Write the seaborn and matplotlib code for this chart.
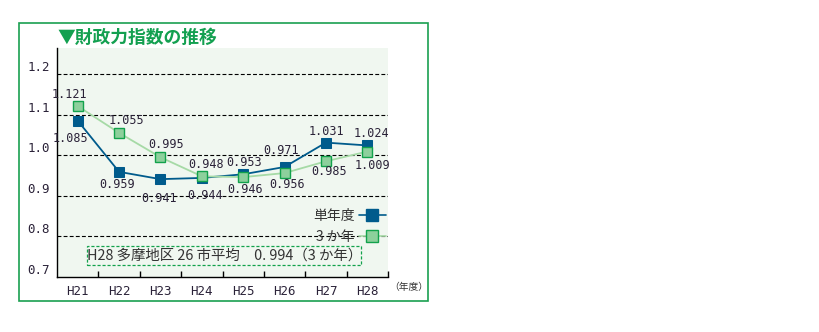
import matplotlib
matplotlib.use("Agg")
import matplotlib.pyplot as plt
import seaborn as sns
import numpy as np
import pandas as pd
from matplotlib.lines import Line2D
from matplotlib.patches import Rectangle

years = ["H21", "H22", "H23", "H24", "H25", "H26", "H27", "H28"]
single_year = [1.085, 0.959, 0.941, 0.944, 0.953, 0.971, 1.031, 1.024]
three_year = [1.121, 1.055, 0.995, 0.948, 0.946, 0.956, 0.985, 1.009]
y_ticks = [0.7, 0.8, 0.9, 1.0, 1.1, 1.2]
single_label = "単年度"
three_label = "3 か年"
title = "▼財政力指数の推移"
note = "H28 多摩地区 26 市平均　0. 994（3 か年）"
unit = "（年度）"

# label offsets in pixels (dx, dy) relative to each point
single_off = [(-7, -18), (-2, -13), (-1, -19), (3, -18), (1, 12), (-3, 16), (1, 11), (4, 12)]
three_off = [(-8, 12), (7, 12), (6, 13), (4, 12), (2, -12), (2, -11), (3, -10), (5, -14)]

sns.set_theme(style="white")
plt.rcParams['font.family'] = ['DejaVu Sans']

BLUE = "#005B8C"
GLINE = "#A6DAA6"
GFACE = "#8DD09C"
GEDGE = "#12A24C"
TXT = "#2A2238"
CJK = ['Noto Sans CJK JP', 'DejaVu Sans']
MONO = ['DejaVu Sans Mono']

fig = plt.figure(figsize=(8.19, 3.32), dpi=100)
fig.patch.set_facecolor("white")
ax = fig.add_axes([57/819, 55/332, 331/819, 229/332])
ax.set_facecolor("#F0F7F0")

x = np.arange(len(years))
df = pd.DataFrame({"x": np.concatenate([x, x]),
                   "v": single_year + three_year,
                   "s": [single_label]*8 + [three_label]*8})

sns.lineplot(data=df[df.s == single_label], x="x", y="v", ax=ax, color=BLUE,
             lw=1.3, marker="s", markersize=6.5, markerfacecolor=BLUE,
             markeredgecolor=BLUE, zorder=4, legend=False)
sns.lineplot(data=df[df.s == three_label], x="x", y="v", ax=ax, color=GLINE,
             lw=1.3, marker="s", markersize=6.5, markerfacecolor=GFACE,
             markeredgecolor=GEDGE, markeredgewidth=1.0, zorder=5, legend=False)

ax.set_xlim(-0.5, 7.5)
ax.set_ylim(0.7, 1.264)
ax.set_xlabel("")
ax.set_ylabel("")

# grid lines
for yv in y_ticks[1:]:
    ax.axhline(yv, color="black", lw=0.8, ls=(0, (3.5, 2)), zorder=1)

ax.set_yticks(y_ticks)
ax.set_yticklabels([f"{v:.1f}" for v in y_ticks], family=MONO, fontsize=9, color=TXT)
for t in ax.get_yticklabels():
    t.set_verticalalignment("bottom")
ax.tick_params(axis="y", length=0, pad=5)

ax.set_xticks(x)
ax.set_xticklabels(years, family=MONO, fontsize=9, color=TXT)
ax.set_xticks(np.arange(0.5, 8, 1), minor=True)
ax.tick_params(axis="x", which="major", length=0, pad=6)
ax.tick_params(axis="x", which="minor", direction="in", length=4, width=1, color="black", bottom=True)

for s in ["top", "right"]:
    ax.spines[s].set_visible(False)
for s in ["left", "bottom"]:
    ax.spines[s].set_color("black")
    ax.spines[s].set_linewidth(1.0)

# value labels
for i in range(8):
    ax.annotate(f"{single_year[i]:.3f}", (x[i], single_year[i]), xytext=single_off[i],
                textcoords="offset pixels", ha="center", va="center",
                family=MONO, fontsize=8.5, color=TXT, zorder=6)
    ax.annotate(f"{three_year[i]:.3f}", (x[i], three_year[i]), xytext=three_off[i],
                textcoords="offset pixels", ha="center", va="center",
                family=MONO, fontsize=8.5, color=TXT, zorder=6)

# legend (text first, marker after)
h1 = Line2D([], [], color=BLUE, lw=1.2, marker="s", markersize=8, mfc=BLUE, mec=BLUE)
h2 = Line2D([], [], color=GLINE, lw=1.2, marker="s", markersize=8, mfc=GFACE, mec=GEDGE)
leg = ax.legend([h1, h2], [single_label, three_label], markerfirst=False, frameon=False,
                loc="center right", bbox_to_anchor=(0.995, 0.22), prop={"family": CJK, "size": 10},
                handlelength=2.0, handletextpad=0.3, labelspacing=0.5, borderpad=0, borderaxespad=0)
for t in leg.get_texts():
    t.set_color("#333333")

# note box
ax.add_patch(Rectangle((30/331, 12/229), 274/331, 19/229, transform=ax.transAxes,
                       fill=False, edgecolor=GEDGE, lw=0.9, ls=(0, (2.5, 1.5)), zorder=3))
ax.text(168/331, 21.5/229, note, transform=ax.transAxes, ha="center", va="center",
        family=CJK, fontsize=10.4, color="#333333", zorder=6)

# title & unit
fig.text(57/819, 1 - 38/332, title, ha="left", va="center", family=CJK,
         fontsize=12.8, fontweight="bold", color="#13A050")
fig.text(409/819, 1 - 287/332, unit, ha="center", va="center", family=CJK,
         fontsize=7, color="#333333")

# outer border
fig.add_artist(Rectangle((19/819, 31/332), 409/819, 278/332, transform=fig.transFigure,
                         fill=False, edgecolor="#1AA050", lw=1.2))

fig.savefig("out.png", dpi=100)
